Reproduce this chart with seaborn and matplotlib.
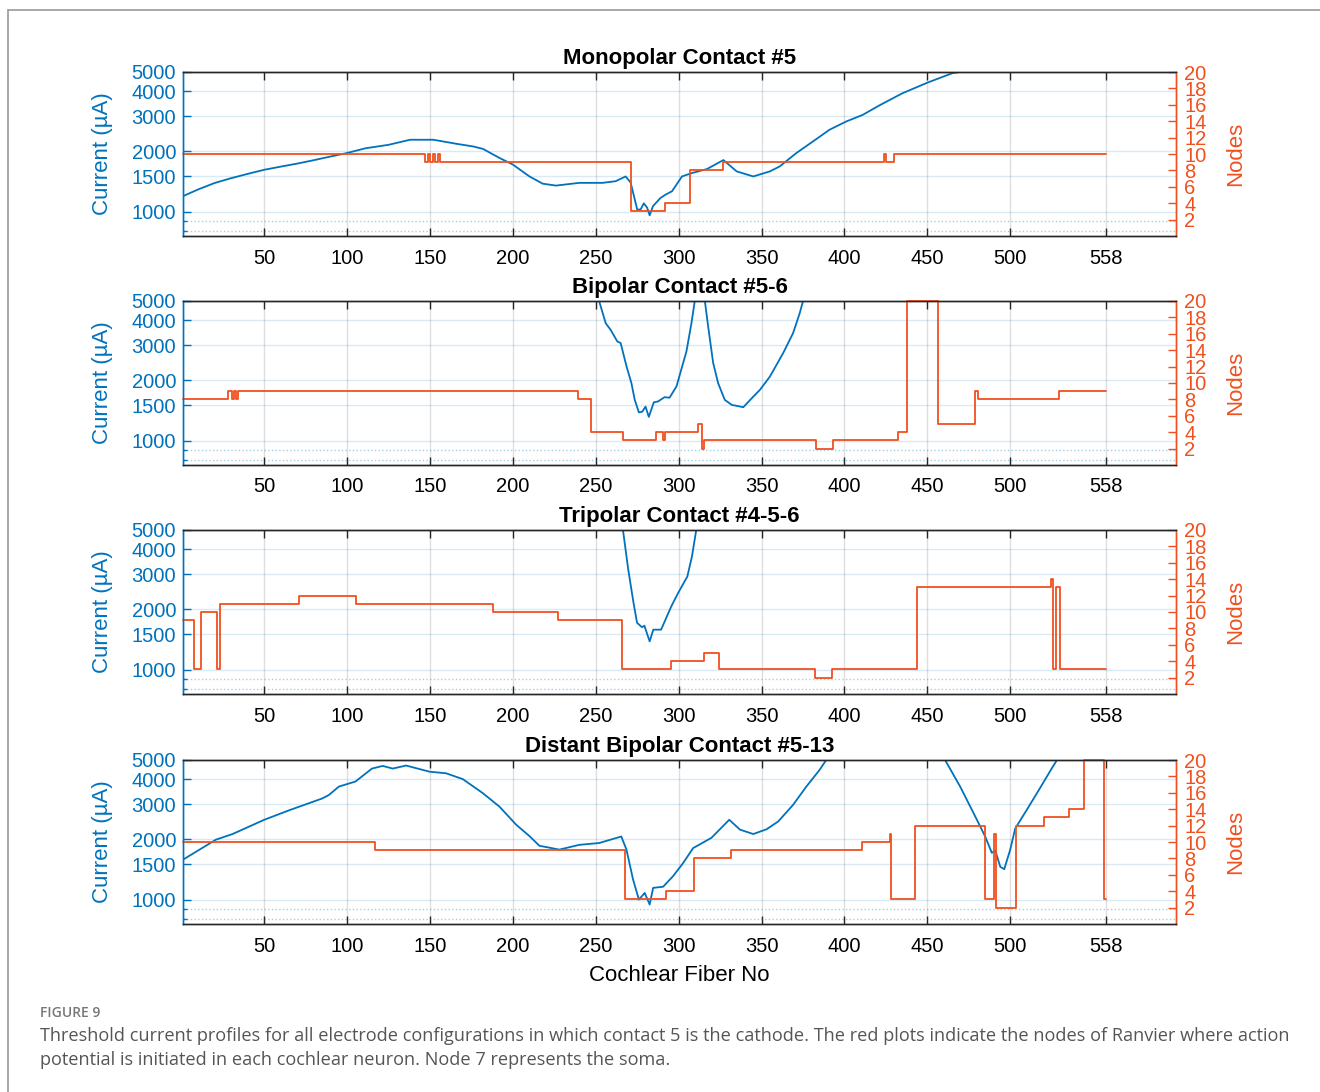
import numpy as np
import matplotlib.pyplot as plt
import seaborn as sns
from matplotlib.ticker import FixedLocator, NullFormatter
from matplotlib.lines import Line2D

sns.set_theme(style="white")
plt.rcParams['font.family'] = ['Liberation Sans', 'DejaVu Sans']
plt.rcParams['text.color'] = 'black'

BLUE = '#0072BD'
RED = '#F0501E'
DARK = '#262626'

# ---- data (fiber no, threshold uA) / (fiber no, node) ----
# values above 5000 uA run off the top of the plot and are clipped
titles = ['Monopolar Contact #5', 'Bipolar Contact #5-6',
          'Tripolar Contact #4-5-6', 'Distant Bipolar Contact #5-13']

mono_x = [1, 10, 20, 30, 40, 50, 60, 70, 80, 89, 100, 111, 125, 138, 152, 166, 176, 182,
          186, 192, 200, 210, 218, 226, 240, 254, 262, 268, 271, 275, 277, 279, 281, 282.5,
          284.5, 289, 292, 296, 302, 308, 317, 327, 335, 345, 355, 361, 371, 381, 391, 401,
          411, 421, 435, 450, 465, 473, 490, 520, 558]
mono_i = [1195, 1290, 1390, 1470, 1545, 1620, 1680, 1740, 1810, 1880, 1965, 2075, 2160, 2290,
          2290, 2185, 2120, 2060, 1975, 1855, 1720, 1500, 1380, 1350, 1393, 1393, 1420, 1500,
          1400, 1024, 1024, 1100, 1045, 958, 1065, 1170, 1215, 1265, 1500, 1560, 1633, 1812,
          1590, 1500, 1590, 1685, 1965, 2245, 2570, 2825, 3050, 3400, 3915, 4420, 4930, 5050,
          5500, 6300, 7000]
mono_nx = [1, 147, 149, 150, 152, 153, 155, 156, 271, 292, 307, 327, 424, 425, 430, 558]
mono_n = [10, 9, 10, 9, 10, 9, 10, 9, 3, 4, 8, 9, 10, 9, 10, 10]

bip_x = [1, 200, 250, 252, 256, 259, 263, 265, 268.5, 271.5, 273.5, 276, 278, 280, 282, 285,
         287.5, 291.5, 294.5, 298.7, 304.7, 307.7, 309.7, 312, 314, 315.8, 317.8, 320.8, 323.8,
         327.8, 332, 339, 345, 349, 355, 363, 369, 373, 375, 380, 450, 558]
bip_i = [20000, 12000, 5600, 5000, 3870, 3580, 3135, 3080, 2360, 1940, 1600, 1385, 1395, 1480,
         1315, 1555, 1570, 1650, 1640, 1870, 2800, 3870, 5000, 7000, 7000, 5000, 3720, 2450,
         1940, 1600, 1510, 1470, 1660, 1795, 2090, 2740, 3450, 4340, 5000, 6000, 12000, 20000]
bip_nx = [1, 28, 30.5, 31.5, 33, 34, 239, 247, 266.5, 286.5, 290.5, 291.5, 311.7, 314.3, 315,
          383, 393, 432.4, 437.5, 456.7, 478.7, 480.5, 529.5, 558]
bip_n = [8, 9, 8, 9, 8, 9, 8, 4, 3, 4, 3, 4, 5, 2, 3, 2, 3, 4, 20, 5, 9, 8, 9, 9]

tri_x = [1, 250, 266.4, 269.6, 272.8, 274.9, 277.9, 279.3, 282.5, 284.7, 289.4, 295.5, 299.8,
         305.2, 308, 310.6, 315, 558]
tri_i = [20000, 8000, 5000, 3160, 2150, 1715, 1630, 1660, 1385, 1585, 1585, 2070, 2430, 2920,
         3680, 5000, 7000, 20000]
tri_nx = [1, 7.8, 12, 21.3, 23.6, 71.2, 105.2, 188.1, 227.5, 265.6, 295.5, 315.5, 324.2, 382.5,
          392.5, 443.7, 524.5, 526, 527.5, 530, 558]
tri_n = [9, 3, 10, 3, 11, 12, 11, 10, 9, 3, 4, 5, 3, 2, 3, 13, 14, 3, 13, 3, 3]

dist_x = [1, 20.8, 30.9, 50, 65, 85, 89, 95, 105, 115, 121.5, 127.5, 135.6, 149.7, 159.7, 169.8,
          181.9, 191.9, 202, 210, 216, 222, 228, 240, 252, 265.4, 268.5, 272.5, 276, 279.5,
          282.5, 284.6, 290.6, 296.6, 302.7, 308.7, 319.8, 330.5, 337, 345, 353, 360, 369, 377,
          385, 389, 395, 455, 460.7, 469.8, 479.9, 484.9, 488.9, 491, 494, 496.4, 500, 503, 510,
          518, 525, 528.2, 535, 558]
dist_i = [1585, 1995, 2130, 2510, 2800, 3210, 3340, 3680, 3900, 4530, 4670, 4530, 4690, 4370,
          4290, 4010, 3410, 2920, 2370, 2080, 1860, 1820, 1780, 1880, 1920, 2070, 1780, 1260,
          1000, 1080, 945, 1145, 1160, 1310, 1525, 1810, 2040, 2510, 2240, 2130, 2250, 2460,
          2980, 3680, 4460, 5000, 6500, 6500, 5000, 3680, 2510, 2070, 1715, 1760, 1460, 1420,
          1780, 2270, 2815, 3620, 4530, 5000, 6500, 8000]
dist_nx = [1, 117, 267.4, 292.2, 309.1, 331.3, 410.4, 427.5, 428.2, 442.6, 484.5, 490, 491.5,
           503.4, 520.5, 535.6, 544.7, 556.8, 558]
dist_n = [10, 9, 3, 4, 8, 9, 10, 11, 3, 12, 3, 11, 2, 12, 13, 14, 20, 3, 3]

current_ticks = [1000, 1500, 2000, 3000, 4000, 5000]
node_ticks = [2, 4, 6, 8, 10, 12, 14, 16, 18, 20]
fiber_ticks = [50, 100, 150, 200, 250, 300, 350, 400, 450, 500, 558]

panels = [(mono_x, mono_i, mono_nx, mono_n),
          (bip_x, bip_i, bip_nx, bip_n),
          (tri_x, tri_i, tri_nx, tri_n),
          (dist_x, dist_i, dist_nx, dist_n)]

fig = plt.figure(figsize=(13.2, 10.92))
W, H = 1320, 1092
tops = [72, 301, 530, 760]
ax_h = 164

for k, (title, (bx, bi, nx, nn)) in enumerate(zip(titles, panels)):
    pos = [183 / W, 1 - (tops[k] + ax_h) / H, 993 / W, ax_h / H]
    ax = fig.add_axes(pos)
    sns.lineplot(x=bx, y=bi, ax=ax, color=BLUE, linewidth=1.3)
    ax.set_yscale('log')
    ax.set_ylim(755, 5000)
    ax.set_xlim(1, 600)
    ax.set_yticks(current_ticks)
    ax.set_yticklabels([str(t) for t in current_ticks])
    ax.yaxis.set_minor_locator(FixedLocator([800, 900]))
    ax.yaxis.set_minor_formatter(NullFormatter())
    ax.set_xticks(fiber_ticks)
    ax.set_xticklabels([str(t) for t in fiber_ticks])
    ax.grid(which='major', axis='y', color=BLUE, alpha=0.15, lw=1)
    ax.grid(which='minor', axis='y', color=BLUE, alpha=0.35, lw=1, ls=':')
    ax.grid(which='major', axis='x', color=DARK, alpha=0.15, lw=1)
    ax.tick_params(axis='y', which='major', direction='in', length=6, width=1, colors=BLUE,
                   left=True, right=True, labelsize=14.5, pad=5)
    ax.tick_params(axis='y', which='minor', direction='in', length=3, width=1, colors=BLUE,
                   left=True, right=True)
    ax.tick_params(axis='x', direction='in', length=6, width=1, color=DARK, labelcolor='black',
                   top=True, bottom=True, labelsize=14.5, pad=9)
    ax.set_ylabel('Current (µA)', color=BLUE, fontsize=16)
    ax.yaxis.set_label_coords(-0.0705, 0.5)
    ax.set_title(title, fontsize=16, fontweight='bold', color='black', pad=6)

    ax2 = ax.twinx()
    sns.lineplot(x=nx, y=nn, ax=ax2, color=RED, linewidth=1.3, drawstyle='steps-post',
                 clip_on=False)
    ax2.set_ylim(0, 20)
    ax2.set_yticks(node_ticks)
    ax2.set_yticklabels([str(t) for t in node_ticks])
    ax2.tick_params(axis='y', direction='in', length=6, width=1, colors=RED,
                    labelsize=14.5, pad=6)
    ax2.set_ylabel('Nodes', color=RED, fontsize=16)
    ax2.yaxis.set_label_coords(1.0493, 0.5)

    for a in (ax, ax2):
        a.spines['left'].set_color(BLUE)
        a.spines['right'].set_color(RED)
        a.spines['top'].set_color(DARK)
        a.spines['bottom'].set_color(DARK)
        for s in a.spines.values():
            s.set_linewidth(1)

    if k == 3:
        ax.set_xlabel('Cochlear Fiber No', fontsize=16, color='black', labelpad=7)

# panel frame and caption
fig.add_artist(Line2D([8 / W, 8 / W], [0, 1 - 10 / H], color='#9a9a9a', lw=1.2))
fig.add_artist(Line2D([8 / W, 1], [1 - 10 / H, 1 - 10 / H], color='#9a9a9a', lw=1.2))
fig.text(40 / W, 1 - 1013 / H, 'FIGURE 9', fontsize=10, color='#777777',
         family=['Open Sans', 'DejaVu Sans'], fontweight='semibold', va='center')
fig.text(40 / W, 1 - 1036 / H,
         'Threshold current profiles for all electrode configurations in which contact 5 is the '
         'cathode. The red plots indicate the nodes of Ranvier where action',
         fontsize=13.1, color='#555555', family=['Open Sans', 'DejaVu Sans'], va='center')
fig.text(40 / W, 1 - 1060 / H,
         'potential is initiated in each cochlear neuron. Node 7 represents the soma.',
         fontsize=13.1, color='#555555', family=['Open Sans', 'DejaVu Sans'], va='center')

fig.savefig('out.png', dpi=100)
